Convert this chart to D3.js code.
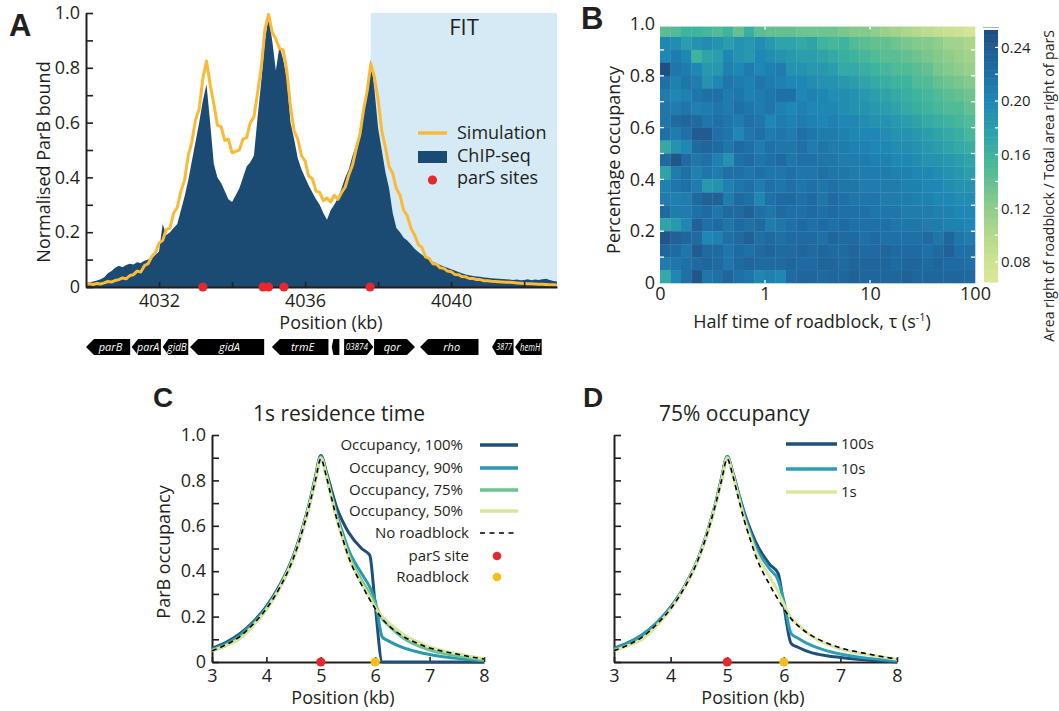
<!DOCTYPE html>
<html><head><meta charset="utf-8">
<script src="https://cdn.jsdelivr.net/npm/d3@7"></script>
<style>
body{margin:0;background:#fff;}
svg{display:block;}
text{font-family:"Open Sans",sans-serif;}
.letter{font-family:"Liberation Sans",Arial,sans-serif;font-weight:bold;}
</style></head><body>
<svg id="fig" width="1059" height="711"></svg>
<script>
// ================= DATA =================
// Panel A: ChIP-seq and simulation, sampled every 0.1 kb from 4030.0 kb
const chipValues = [
0.015,0.017,0.02,0.024,0.028,0.036,0.05,0.058,0.07,0.078,
0.072,0.08,0.085,0.082,0.09,0.088,0.096,0.1,0.105,0.118,
0.13,0.23,0.19,0.2,0.215,0.23,0.28,0.33,0.39,0.46,
0.53,0.6,0.68,0.74,0.6,0.45,0.4,0.38,0.35,0.32,
0.31,0.335,0.36,0.4,0.44,0.455,0.48,0.62,0.75,0.9,
0.985,0.9,0.79,0.88,0.83,0.76,0.6,0.54,0.47,0.43,
0.4,0.37,0.345,0.32,0.3,0.27,0.245,0.28,0.3,0.325,
0.36,0.4,0.43,0.48,0.52,0.57,0.64,0.72,0.83,0.72,
0.58,0.5,0.42,0.36,0.27,0.215,0.2,0.18,0.17,0.155,
0.14,0.128,0.118,0.108,0.1,0.092,0.087,0.08,0.075,0.07,
0.065,0.06,0.055,0.05,0.046,0.043,0.04,0.038,0.037,0.035,
0.034,0.032,0.031,0.03,0.029,0.028,0.027,0.026,0.027,0.025,
0.026,0.028,0.025,0.027,0.026,0.028,0.03,0.026,0.022,0.02];
const simValues = [
0.01,0.012,0.009,0.013,0.011,0.015,0.02,0.018,0.024,0.027,
0.033,0.03,0.042,0.045,0.058,0.055,0.078,0.085,0.11,0.125,
0.16,0.17,0.21,0.215,0.27,0.29,0.35,0.39,0.48,0.53,
0.61,0.65,0.76,0.825,0.74,0.67,0.59,0.585,0.535,0.54,
0.49,0.495,0.5,0.54,0.545,0.6,0.62,0.71,0.8,0.94,
0.995,0.93,0.905,0.87,0.865,0.79,0.66,0.57,0.54,0.48,
0.46,0.405,0.395,0.35,0.345,0.315,0.325,0.31,0.335,0.32,
0.345,0.365,0.41,0.445,0.505,0.555,0.645,0.715,0.815,0.765,
0.685,0.57,0.51,0.44,0.415,0.36,0.335,0.28,0.26,0.215,
0.19,0.155,0.145,0.11,0.104,0.085,0.083,0.07,0.068,0.058,
0.056,0.046,0.045,0.038,0.037,0.031,0.031,0.027,0.027,0.023,
0.023,0.021,0.02,0.019,0.018,0.017,0.017,0.016,0.015,0.014,
0.013,0.012,0.012,0.011,0.01,0.01,0.009,0.008,0.008,0.007];
const profileStart = 4030.0, profileStep = 0.1;
const parSSites = [4033.2, 4034.85, 4035.0, 4035.42, 4037.78];
const fitStart = 4037.8;
const axisATicks = [4032, 4034, 4036, 4038, 4040, 4042];
const axisALabels = [4032, 4036, 4040];

// Gene track (kb)
const geneNames  = ["parB","parA","gidB","gidA","trmE","","03874","qor","rho","3877","hemH"];
const geneStart  = [4030.0,4031.25,4032.1,4032.85,4035.09,4036.73,4037.07,4037.89,4039.15,4041.12,4041.75];
const geneEnd    = [4031.21,4032.05,4032.8,4034.88,4036.64,4036.94,4037.87,4039.01,4040.75,4041.71,4042.48];
const geneStrand = [-1,-1,-1,-1,-1,-1,1,1,-1,-1,-1];

// Panel B heatmap: rows top (occupancy 0.95) to bottom (0.0), columns log10(tau) from -1.0 to 1.9
const occRows = [0.95,0.9,0.85,0.8,0.75,0.7,0.65,0.6,0.55,0.5,0.45,0.4,0.35,0.3,0.25,0.2,0.15,0.1,0.05,0.0];
const tauExp = [-1.0,-0.9,-0.8,-0.7,-0.6,-0.5,-0.4,-0.3,-0.2,-0.1,0.0,0.1,0.2,0.3,0.4,0.5,0.6,0.7,0.8,0.9,1.0,1.1,1.2,1.3,1.4,1.5,1.6,1.7,1.8,1.9];
const heat = [
[0.145,0.15,0.16,0.16,0.155,0.15,0.16,0.14,0.165,0.145,0.14,0.14,0.14,0.135,0.135,0.135,0.135,0.13,0.125,0.125,0.12,0.115,0.11,0.105,0.1,0.095,0.09,0.085,0.08,0.075],
[0.2,0.195,0.18,0.19,0.195,0.19,0.18,0.19,0.185,0.195,0.185,0.175,0.175,0.17,0.175,0.16,0.155,0.16,0.15,0.145,0.14,0.14,0.135,0.13,0.125,0.125,0.12,0.11,0.11,0.105],
[0.2,0.21,0.2,0.16,0.175,0.18,0.2,0.19,0.185,0.2,0.195,0.19,0.185,0.18,0.18,0.175,0.17,0.165,0.16,0.155,0.15,0.145,0.145,0.14,0.135,0.13,0.125,0.12,0.115,0.11],
[0.25,0.215,0.21,0.2,0.185,0.185,0.205,0.2,0.21,0.2,0.205,0.21,0.19,0.19,0.185,0.185,0.18,0.17,0.17,0.165,0.16,0.155,0.15,0.15,0.145,0.14,0.13,0.125,0.12,0.115],
[0.22,0.205,0.215,0.21,0.19,0.2,0.215,0.21,0.205,0.215,0.21,0.205,0.2,0.2,0.195,0.19,0.19,0.185,0.18,0.175,0.17,0.165,0.16,0.16,0.15,0.15,0.14,0.135,0.13,0.125],
[0.21,0.2,0.205,0.215,0.22,0.22,0.21,0.215,0.205,0.21,0.215,0.22,0.22,0.2,0.205,0.2,0.195,0.195,0.19,0.185,0.18,0.175,0.17,0.165,0.16,0.155,0.15,0.145,0.14,0.135],
[0.215,0.21,0.215,0.205,0.21,0.215,0.21,0.22,0.215,0.21,0.215,0.205,0.2,0.205,0.2,0.2,0.2,0.195,0.19,0.19,0.185,0.18,0.175,0.17,0.165,0.16,0.155,0.15,0.15,0.14],
[0.215,0.225,0.23,0.225,0.215,0.22,0.215,0.21,0.22,0.215,0.2,0.21,0.205,0.21,0.205,0.2,0.205,0.2,0.2,0.195,0.19,0.19,0.185,0.18,0.175,0.17,0.165,0.16,0.155,0.15],
[0.22,0.21,0.22,0.24,0.24,0.22,0.215,0.2,0.215,0.22,0.21,0.215,0.21,0.22,0.215,0.21,0.21,0.205,0.2,0.2,0.2,0.195,0.19,0.19,0.185,0.18,0.175,0.17,0.165,0.155],
[0.17,0.19,0.2,0.225,0.23,0.225,0.215,0.225,0.22,0.21,0.22,0.215,0.215,0.22,0.21,0.215,0.21,0.21,0.205,0.205,0.2,0.2,0.195,0.195,0.19,0.185,0.18,0.175,0.17,0.165],
[0.225,0.245,0.225,0.215,0.22,0.205,0.19,0.22,0.225,0.215,0.22,0.225,0.215,0.22,0.22,0.215,0.215,0.21,0.21,0.21,0.205,0.205,0.2,0.2,0.195,0.19,0.19,0.185,0.18,0.175],
[0.175,0.21,0.22,0.205,0.215,0.21,0.22,0.22,0.215,0.22,0.215,0.215,0.22,0.215,0.215,0.22,0.215,0.215,0.21,0.21,0.21,0.21,0.205,0.205,0.2,0.2,0.195,0.19,0.185,0.18],
[0.205,0.215,0.22,0.21,0.185,0.19,0.205,0.215,0.22,0.21,0.22,0.215,0.22,0.215,0.22,0.215,0.22,0.215,0.215,0.21,0.21,0.21,0.21,0.205,0.205,0.2,0.2,0.195,0.19,0.19],
[0.21,0.205,0.21,0.225,0.235,0.235,0.21,0.225,0.22,0.2,0.22,0.225,0.225,0.22,0.225,0.215,0.225,0.22,0.215,0.215,0.215,0.21,0.21,0.21,0.205,0.205,0.2,0.2,0.195,0.195],
[0.225,0.21,0.21,0.22,0.225,0.215,0.225,0.225,0.235,0.22,0.215,0.225,0.22,0.22,0.225,0.22,0.225,0.22,0.22,0.22,0.215,0.215,0.215,0.21,0.21,0.21,0.205,0.205,0.2,0.2],
[0.175,0.185,0.2,0.235,0.22,0.225,0.215,0.225,0.22,0.225,0.21,0.215,0.22,0.225,0.22,0.225,0.22,0.225,0.22,0.22,0.22,0.22,0.215,0.215,0.215,0.21,0.21,0.205,0.205,0.2],
[0.245,0.235,0.23,0.225,0.2,0.205,0.22,0.225,0.235,0.22,0.225,0.22,0.225,0.225,0.225,0.22,0.23,0.225,0.225,0.22,0.225,0.22,0.22,0.22,0.22,0.225,0.215,0.23,0.215,0.21],
[0.23,0.225,0.215,0.24,0.225,0.225,0.215,0.225,0.22,0.225,0.23,0.225,0.225,0.23,0.225,0.23,0.225,0.225,0.23,0.225,0.225,0.23,0.225,0.225,0.225,0.22,0.225,0.235,0.22,0.22],
[0.21,0.215,0.22,0.225,0.23,0.225,0.215,0.225,0.23,0.225,0.225,0.225,0.23,0.225,0.225,0.23,0.23,0.225,0.23,0.23,0.23,0.23,0.225,0.23,0.23,0.225,0.23,0.225,0.225,0.22],
[0.17,0.2,0.22,0.245,0.215,0.22,0.23,0.22,0.215,0.2,0.205,0.2,0.225,0.23,0.23,0.225,0.23,0.23,0.235,0.23,0.23,0.23,0.23,0.235,0.23,0.23,0.23,0.23,0.23,0.225]];
const heatColorDomain = [0.065,0.08,0.10,0.12,0.14,0.16,0.18,0.20,0.22,0.24,0.253];
const heatColorRange = ["#dde698","#cfe293","#b4d98c","#8ecd8c","#64c091","#3eb39d","#2a9eac","#1f87b3","#1e70a6","#205c92","#1f4d7e"];
const colorbarTicks = [0.08,0.12,0.16,0.20,0.24];
const tauTicks = [0.1, 1, 10, 100];
const tauTickLabels = ["0","1","10","100"];

// Panels C and D: position (kb)
const posCD = [3,3.25,3.5,3.75,4,4.25,4.5,4.6,4.7,4.8,4.9,5,5.1,5.2,5.3,5.4,5.5,5.75,5.9,6,6.13,6.25,6.5,6.75,7,7.25,7.5,7.75,8];
const noRoadblock = [0.05,0.075,0.11,0.165,0.235,0.33,0.46,0.53,0.61,0.70,0.80,0.895,0.82,0.72,0.625,0.545,0.47,0.34,0.275,0.235,0.19,0.16,0.115,0.085,0.062,0.047,0.035,0.023,0.013];
const occ100 = [0.06,0.085,0.122,0.175,0.245,0.34,0.47,0.54,0.62,0.71,0.815,0.91,0.84,0.755,0.675,0.62,0.575,0.5,0.47,0.25,0,0,0,0,0,0,0,0,0];
const occ90  = [0.055,0.08,0.115,0.17,0.24,0.335,0.465,0.535,0.615,0.705,0.81,0.905,0.83,0.735,0.645,0.57,0.5,0.39,0.33,0.27,0.11,0.092,0.064,0.046,0.033,0.023,0.016,0.01,0.005];
const occ75  = [0.05,0.072,0.105,0.16,0.232,0.33,0.46,0.53,0.61,0.70,0.80,0.9,0.825,0.725,0.63,0.55,0.48,0.36,0.3,0.255,0.19,0.16,0.108,0.075,0.053,0.038,0.027,0.017,0.009];
const occ50  = [0.05,0.072,0.1,0.158,0.232,0.33,0.46,0.53,0.61,0.70,0.80,0.9,0.822,0.722,0.625,0.548,0.47,0.345,0.285,0.24,0.2,0.172,0.125,0.092,0.067,0.05,0.037,0.025,0.014];
const tau100 = [0.06,0.085,0.12,0.172,0.242,0.335,0.465,0.535,0.615,0.705,0.81,0.905,0.835,0.745,0.66,0.59,0.53,0.43,0.39,0.25,0.082,0.065,0.04,0.028,0.02,0.013,0.008,0.004,0];
const tau10  = [0.058,0.083,0.118,0.17,0.24,0.333,0.463,0.533,0.613,0.703,0.808,0.905,0.83,0.74,0.65,0.575,0.51,0.41,0.36,0.27,0.125,0.105,0.072,0.05,0.035,0.024,0.016,0.01,0.005];
const tau1   = [0.05,0.072,0.1,0.158,0.232,0.33,0.46,0.53,0.61,0.70,0.80,0.9,0.825,0.728,0.635,0.56,0.49,0.375,0.31,0.255,0.195,0.165,0.112,0.08,0.058,0.043,0.032,0.022,0.012];
const parSPos = 5, roadblockPos = 6;
const legendC = ["Occupancy, 100%","Occupancy, 90%","Occupancy, 75%","Occupancy, 50%"];
const legendD = ["100s","10s","1s"];
const yTicksProfile = [0,0.1,0.2,0.3,0.4,0.5,0.6,0.7,0.8,0.9,1.0];
const xTicksProfile = [3,4,5,6,7,8];

// ================= DRAW =================
const svg = d3.select("#fig");
const ink = "#231f20";
const red = "#e8262b", yellow = "#f8bd17";
svg.append("rect").attr("width",1059).attr("height",711).attr("fill","#fff");

function txt(g){ return g.append("text").style("fill", ink); }
function styleAxis(g, hideDomain){
  g.selectAll(".domain").attr("stroke", ink).attr("stroke-width", 2).attr("display", hideDomain ? "none" : null);
  g.selectAll(".tick line").attr("stroke", ink).attr("stroke-width", 1.6);
  g.selectAll(".tick text").style("font-family","Open Sans").style("fill", ink);
}
const fmtY = d => { const k = Math.round(d*10); return k % 2 ? "" : (k === 0 ? "0" : d3.format(".1f")(d)); };

// ---------- Panel A ----------
const chipPos = chipValues.map((v,i) => profileStart + i*profileStep);
const xA = d3.scaleLinear().domain([4030, 4042.9]).range([86, 557]);
const yA = d3.scaleLinear().domain([0, 1]).range([287, 13]);
const gA = svg.append("g");
gA.append("rect").attr("x", xA(fitStart)).attr("y", yA(1))
  .attr("width", xA(4042.9) - xA(fitStart)).attr("height", yA(0) - yA(1)).attr("fill", "#d5eaf5");
txt(gA).attr("x", 464).attr("y", 35).attr("text-anchor","middle").style("font-size","22px").text("FIT");
gA.append("path").datum(chipValues)
  .attr("d", d3.area().x((d,i) => xA(chipPos[i])).y0(yA(0)).y1(d => yA(d)))
  .attr("fill", "#1b4a73");
gA.append("path").datum(simValues)
  .attr("d", d3.line().x((d,i) => xA(chipPos[i])).y(d => yA(d)))
  .attr("fill","none").attr("stroke","#fbb935").attr("stroke-width",3).attr("stroke-linejoin","round");
const axAy = gA.append("g").attr("transform","translate(86,0)")
  .call(d3.axisLeft(yA).tickValues(yTicksProfile).tickFormat(fmtY).tickSizeInner(-7).tickSizeOuter(0).tickPadding(6));
axAy.selectAll("text").style("font-size","18px");
styleAxis(axAy);
const axAx = gA.append("g").attr("transform","translate(0,287)")
  .call(d3.axisBottom(xA).tickValues(axisATicks).tickFormat(d => axisALabels.includes(d) ? d : "").tickSizeInner(-5).tickSizeOuter(0).tickPadding(7));
axAx.selectAll("text").style("font-size","18px");
styleAxis(axAx);
gA.selectAll("circle.pars").data(parSSites).join("circle").attr("class","pars")
  .attr("cx", d => xA(d)).attr("cy", yA(0)).attr("r", 4.6).attr("fill", red);
txt(gA).attr("transform","translate(50,162) rotate(-90)").attr("text-anchor","middle")
  .style("font-size","18px").text("Normalised ParB bound");
txt(gA).attr("x", 331).attr("y", 329).attr("text-anchor","middle").style("font-size","18px").text("Position (kb)");
// legend A
gA.append("line").attr("x1",418).attr("x2",447).attr("y1",133).attr("y2",133).attr("stroke","#fbb935").attr("stroke-width",3.5);
gA.append("rect").attr("x",418).attr("y",151).attr("width",29).attr("height",12).attr("fill","#1b4a73");
gA.append("circle").attr("cx",432.5).attr("cy",180).attr("r",4.6).attr("fill",red);
[["Simulation",139],["ChIP-seq",162],["parS sites",184]].forEach(([t,y]) =>
  txt(gA).attr("x",457).attr("y",y).style("font-size","18px").text(t));
// gene track
const gTop = 339, gBot = 355, gMid = (gTop+gBot)/2;
geneNames.forEach((name,i) => {
  const x0 = xA(geneStart[i]), x1 = xA(geneEnd[i]);
  const tip = Math.min(8, (x1-x0)*0.22);
  let pts, cx, avail;
  if (geneStrand[i] < 0) {
    pts = [[x0,gMid],[x0+tip,gTop],[x1,gTop],[x1,gBot],[x0+tip,gBot]];
    cx = (x0+tip*0.6+x1)/2;
  } else {
    pts = [[x0,gTop],[x1-tip,gTop],[x1,gMid],[x1-tip,gBot],[x0,gBot]];
    cx = (x0+x1-tip*0.6)/2;
  }
  avail = (x1 - x0) - tip*0.6 - 3;
  gA.append("polygon").attr("points", pts.map(p=>p.join(",")).join(" ")).attr("fill","#000");
  if (name) {
    const small = /^\d/.test(name);
    const t = gA.append("text").attr("x", cx).attr("y", gMid).attr("dy","0.35em").attr("text-anchor","middle")
      .style("font-size", small ? "9px" : "11px").style("font-style","italic")
      .style("fill","#ffffff").text(name);
    const w = t.node().getComputedTextLength();
    if (w > avail) t.attr("textLength", avail).attr("lengthAdjust","spacingAndGlyphs");
  }
});

// ---------- Panel B ----------
const xB = d3.scaleLog().domain([0.1, 100]).range([660, 975]);
const yB = d3.scaleLinear().domain([0, 1]).range([283, 24]);
const cB = d3.scaleLinear().domain(heatColorDomain).range(heatColorRange).clamp(true);
const gB = svg.append("g");
heat.forEach((row, r) => {
  row.forEach((v, c) => {
    const xl = xB(Math.pow(10, tauExp[c])), xr = xB(Math.pow(10, tauExp[c] + 0.1));
    const yb = yB(occRows[r]), yt = yB(Math.min(occRows[r] + 0.05, 0.99));
    gB.append("rect").attr("x", xl).attr("y", yt).attr("width", xr - xl + 0.3).attr("height", yb - yt + 0.3)
      .attr("fill", cB(v));
  });
});
// white inner ticks
[0.1,0.2,0.3,0.4,0.5,0.6,0.7,0.8,0.9].forEach(v => {
  gB.append("line").attr("x1",660).attr("x2",664).attr("y1",yB(v)).attr("y2",yB(v)).attr("stroke","#fff").attr("stroke-width",1.3);
  gB.append("line").attr("x1",971).attr("x2",975).attr("y1",yB(v)).attr("y2",yB(v)).attr("stroke","#fff").attr("stroke-width",1.3);
});
[1,10].forEach(v => {
  gB.append("line").attr("x1",xB(v)).attr("x2",xB(v)).attr("y1",yB(0.99)).attr("y2",yB(0.99)+3).attr("stroke","#fff").attr("stroke-width",1.3);
  gB.append("line").attr("x1",xB(v)).attr("x2",xB(v)).attr("y1",283).attr("y2",280).attr("stroke","#fff").attr("stroke-width",1.3);
});
const axBy = gB.append("g").attr("transform","translate(660,0)")
  .call(d3.axisLeft(yB).tickValues([0,0.2,0.4,0.6,0.8,1.0]).tickFormat(d => d === 0 ? "0" : d3.format(".1f")(d)).tickSize(0).tickPadding(5));
axBy.selectAll("text").style("font-size","18px");
styleAxis(axBy, true);
const axBx = gB.append("g").attr("transform","translate(0,283)")
  .call(d3.axisBottom(xB).tickValues(tauTicks).tickFormat((d,i) => tauTickLabels[i]).tickSize(0).tickPadding(4));
axBx.selectAll("text").style("font-size","18px");
styleAxis(axBx, true);
txt(gB).attr("transform","translate(620,160) rotate(-90)").attr("text-anchor","middle")
  .style("font-size","18px").text("Percentage occupancy");
const xlab = txt(gB).attr("x", 812).attr("y", 328).attr("text-anchor","middle").style("font-size","18px");
xlab.append("tspan").text("Half time of roadblock, τ (s");
xlab.append("tspan").attr("dy",-7).style("font-size","11px").text("-1");
xlab.append("tspan").attr("dy",7).text(")");
// colorbar
const cbY = d3.scaleLinear().domain([0.065, 0.253]).range([282, 30]);
const cbSteps = d3.range(0.065, 0.253, 0.002);
gB.selectAll("rect.cb").data(cbSteps).join("rect").attr("class","cb")
  .attr("x",984).attr("width",14).attr("y", d => cbY(d + 0.002)).attr("height", d => cbY(d) - cbY(d+0.002) + 0.5)
  .attr("fill", d => cB(d + 0.001));
gB.append("line").attr("x1",983).attr("x2",999).attr("y1",27.5).attr("y2",27.5).attr("stroke","#9fb6cc").attr("stroke-width",1);
[0.08,0.10,0.12,0.14,0.16,0.18,0.20,0.22,0.24].forEach(v =>
  gB.append("line").attr("x1",995).attr("x2",998).attr("y1",cbY(v)).attr("y2",cbY(v)).attr("stroke","#fff").attr("stroke-width",1.2));
const axCb = gB.append("g").attr("transform","translate(998,0)")
  .call(d3.axisRight(cbY).tickValues(colorbarTicks).tickFormat(d3.format(".2f")).tickSize(0).tickPadding(3));
axCb.selectAll("text").style("font-size","15px");
styleAxis(axCb, true);
txt(gB).attr("transform","translate(1054,186) rotate(-90)").attr("text-anchor","middle")
  .style("font-size","14px").text("Area right of roadblock / Total area right of parS");

// ---------- Panels C & D ----------
function drawProfile(g, x, y, series, labelsY){
  const line = d3.line().x((d,i) => x(posCD[i])).y(d => y(d)).curve(d3.curveMonotoneX);
  const ay = g.append("g").attr("transform", `translate(${x(3)},0)`)
    .call(d3.axisLeft(y).tickValues(yTicksProfile).tickFormat(labelsY ? fmtY : () => "").tickSizeInner(-7).tickSizeOuter(0).tickPadding(6));
  ay.selectAll("text").style("font-size","18px");
  styleAxis(ay);
  const ax = g.append("g").attr("transform", `translate(0,${y(0)})`)
    .call(d3.axisBottom(x).tickValues(xTicksProfile).tickFormat(d3.format("d")).tickSizeInner(-5).tickSizeOuter(0).tickPadding(7));
  ax.selectAll("text").style("font-size","18px");
  styleAxis(ax);
  series.forEach(s => {
    g.append("path").datum(s.values).attr("d", line).attr("fill","none")
      .attr("stroke", s.color).attr("stroke-width", 3).attr("stroke-linejoin","round");
  });
  g.append("path").datum(noRoadblock).attr("d", line).attr("fill","none")
    .attr("stroke","#000").attr("stroke-width",1.6).attr("stroke-dasharray","5,4");
  g.append("circle").attr("cx", x(parSPos)).attr("cy", y(0)).attr("r",4.6).attr("fill",red);
  g.append("circle").attr("cx", x(roadblockPos)).attr("cy", y(0)).attr("r",4.6).attr("fill",yellow);
}
const colC = ["#1f4e79","#2a98ad","#6dc28d","#d6e69b"];
const xC = d3.scaleLinear().domain([3,8]).range([212,484]);
const yC = d3.scaleLinear().domain([0,1]).range([662,435]);
const gC = svg.append("g");
drawProfile(gC, xC, yC, [
  {values: occ100, color: colC[0]},{values: occ90, color: colC[1]},
  {values: occ75, color: colC[2]},{values: occ50, color: colC[3]}], true);
txt(gC).attr("x",253).attr("y",421).style("font-size","21px").text("1s residence time");
txt(gC).attr("x",343).attr("y",704).attr("text-anchor","middle").style("font-size","18px").text("Position (kb)");
txt(gC).attr("transform","translate(170,552) rotate(-90)").attr("text-anchor","middle")
  .style("font-size","18px").text("ParB occupancy");
const legCy = [445,468,490,511];
legendC.forEach((t,i) => {
  txt(gC).attr("x",463).attr("y",legCy[i]).attr("dy","0.35em").attr("text-anchor","end").style("font-size","15px").text(t);
  gC.append("line").attr("x1",480).attr("x2",518).attr("y1",legCy[i]).attr("y2",legCy[i]).attr("stroke",colC[i]).attr("stroke-width",3.5);
});
txt(gC).attr("x",469).attr("y",533).attr("dy","0.35em").attr("text-anchor","end").style("font-size","15px").text("No roadblock");
gC.append("line").attr("x1",480).attr("x2",514).attr("y1",533).attr("y2",533).attr("stroke","#000").attr("stroke-width",1.6).attr("stroke-dasharray","5,4.5");
txt(gC).attr("x",469).attr("y",556).attr("dy","0.35em").attr("text-anchor","end").style("font-size","15px").text("parS site");
gC.append("circle").attr("cx",497).attr("cy",556).attr("r",4.3).attr("fill",red);
txt(gC).attr("x",469).attr("y",577).attr("dy","0.35em").attr("text-anchor","end").style("font-size","15px").text("Roadblock");
gC.append("circle").attr("cx",497).attr("cy",577).attr("r",4.3).attr("fill",yellow);

const colD = ["#1f4e79","#2ba0b4","#d8e79b"];
const xD = d3.scaleLinear().domain([3,8]).range([614,897]);
const yD = d3.scaleLinear().domain([0,1]).range([662,435]);
const gD = svg.append("g");
drawProfile(gD, xD, yD, [
  {values: tau100, color: colD[0]},{values: tau10, color: colD[1]},{values: tau1, color: colD[2]}], false);
txt(gD).attr("x",659).attr("y",421).style("font-size","21px").text("75% occupancy");
txt(gD).attr("x",753).attr("y",704).attr("text-anchor","middle").style("font-size","18px").text("Position (kb)");
const legDy = [444,469,492];
legendD.forEach((t,i) => {
  gD.append("line").attr("x1",786).attr("x2",837).attr("y1",legDy[i]).attr("y2",legDy[i]).attr("stroke",colD[i]).attr("stroke-width",3.5);
  txt(gD).attr("x",841).attr("y",legDy[i]).attr("dy","0.35em").style("font-size","15px").text(t);
});

// panel letters
[["A",9,36,31],["B",581,29,31],["C",153,407,28],["D",583,407,28]].forEach(([t,x,y,s]) =>
  txt(svg).attr("class","letter").attr("x",x).attr("y",y).style("font-size",s+"px").text(t));
</script></body></html>
